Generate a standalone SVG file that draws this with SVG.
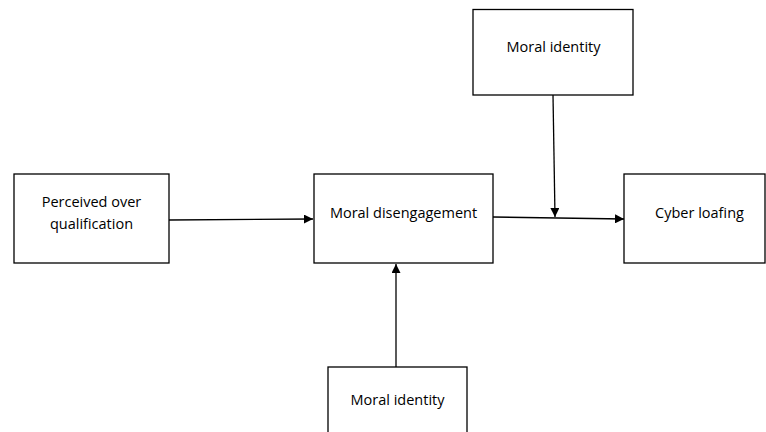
<svg xmlns="http://www.w3.org/2000/svg" width="766" height="432" viewBox="0 0 766 432">
<style>
.box{fill:#fff;stroke:#000;stroke-width:1.3}
.lbl{font-family:"Open Sans","Liberation Sans",sans-serif;font-size:14.5px;fill:#000;text-anchor:middle}
.con{stroke:#000;stroke-width:1.3;fill:none;marker-end:url(#ah)}
</style>
<defs>
<marker id="ah" viewBox="0 0 10 10" refX="10" refY="5" markerWidth="9" markerHeight="9" markerUnits="userSpaceOnUse" orient="auto">
<path d="M0,0 L10,5 L0,10 z" fill="#000"/>
</marker>
</defs>
<rect width="766" height="432" fill="#fff"/>
<g id="connectors">
<line class="con" x1="169" y1="220" x2="313" y2="219"/>
<line class="con" x1="493" y1="217" x2="624" y2="219"/>
<line class="con" x1="553" y1="95" x2="555" y2="217"/>
<line class="con" x1="396" y1="367" x2="396" y2="264"/>
</g>
<g id="perceived">
<rect class="box" x="14" y="174" width="155" height="89"/>
<text class="lbl" x="91.5" y="207">Perceived over</text>
<text class="lbl" x="91.5" y="229">qualification</text>
</g>
<g id="disengagement">
<rect class="box" x="314" y="174" width="179" height="89"/>
<text class="lbl" x="403.5" y="218">Moral disengagement</text>
</g>
<g id="cyber">
<rect class="box" x="624" y="174" width="141" height="89"/>
<text class="lbl" x="699.5" y="218">Cyber loafing</text>
</g>
<g id="identity-top">
<rect class="box" x="473" y="9.5" width="160" height="85.5"/>
<text class="lbl" x="553.5" y="52">Moral identity</text>
</g>
<g id="identity-bottom">
<rect class="box" x="328" y="367" width="139" height="80"/>
<text class="lbl" x="397.5" y="405">Moral identity</text>
</g>
</svg>
